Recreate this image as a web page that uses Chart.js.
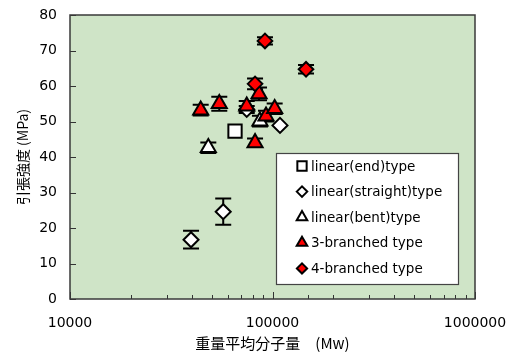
<!DOCTYPE html>
<html><head><meta charset="utf-8">
<script src="https://cdn.jsdelivr.net/npm/chart.js@4/dist/chart.umd.min.js"></script>
<style>html,body{margin:0;padding:0;background:#fff}#wrap{width:511px;height:356px}</style>
</head><body><div id="wrap"><canvas id="c" width="511" height="356"></canvas></div>
<script>
// ---- data ----
const seriesLabels = ['linear(end)type','linear(straight)type','linear(bent)type','3-branched type','4-branched type'];
const endX = [65300];               const endY = [47.3];                 const endErr = [0];
const straightX = [39600, 57100, 74600, 108900]; const straightY = [16.7, 24.6, 53.4, 48.9]; const straightErr = [2.5, 3.7, 1.0, 0];
const bentX = [48200, 86700];       const bentY = [42.6, 50.1];          const bentErr = [1.5, 1.5];
const br3X = [44200, 54600, 74600, 82000, 85800, 92900, 102500];
const br3Y = [53.2, 55.0, 54.3, 44.0, 57.8, 51.5, 53.6];
const br3Err = [1.5, 2.0, 1.5, 1.2, 1.8, 1.5, 1.5];
const br4X = [82000, 91800, 146400]; const br4Y = [60.6, 72.7, 64.7];   const br4Err = [1.5, 1.0, 1.2];
const yTickValues = [0,10,20,30,40,50,60,70,80];
const xTickLabels = [10000, 100000, 1000000];

const xs = [endX, straightX, bentX, br3X, br4X];
const ys = [endY, straightY, bentY, br3Y, br4Y];
const errs = [endErr, straightErr, bentErr, br3Err, br4Err];
const styles = [
  {pointStyle:'rect', fill:'#ffffff', r:9.4},
  {pointStyle:'rectRot', fill:'#ffffff', r:7.5},
  {pointStyle:'triangle', fill:'#ffffff', r:8.7},
  {pointStyle:'triangle', fill:'#ff0000', r:8.7},
  {pointStyle:'rectRot', fill:'#ff0000', r:7.3}
];
const datasets = seriesLabels.map((lab,i)=>({
  label: lab,
  order: seriesLabels.length - i,
  data: xs[i].map((x,j)=>({x:x, y:ys[i][j]})),
  pointStyle: styles[i].pointStyle,
  pointRadius: styles[i].r,
  pointHoverRadius: styles[i].r,
  pointBackgroundColor: styles[i].fill,
  pointBorderColor: '#000',
  pointBorderWidth: 2,
  showLine: false
}));

const bgPlugin = {
  id:'bg',
  beforeDraw(chart){
    const {ctx, chartArea:a} = chart;
    ctx.save(); ctx.fillStyle = '#cfe4c7';
    ctx.fillRect(a.left, a.top, a.right-a.left, a.bottom-a.top);
    ctx.restore();
  }
};
const framePlugin = {
  id:'frame',
  beforeDatasetsDraw(chart){
    const {ctx, chartArea:a, scales} = chart;
    ctx.save();
    ctx.strokeStyle = '#333'; ctx.lineWidth = 1;
    yTickValues.forEach(v=>{
      const py = Math.round(scales.y.getPixelForValue(v))+0.5;
      ctx.beginPath(); ctx.moveTo(a.left, py); ctx.lineTo(a.left+6, py); ctx.stroke();
    });
    scales.x.ticks.forEach(t=>{
      const px = Math.round(scales.x.getPixelForValue(t.value))+0.5;
      const major = Number.isInteger(Math.round(Math.log10(t.value)*1e6)/1e6);
      const len = major ? 7 : 4;
      ctx.beginPath(); ctx.moveTo(px, a.bottom); ctx.lineTo(px, a.bottom-len); ctx.stroke();
    });
    ctx.lineWidth = 1.5; ctx.strokeStyle = '#3a3a3a';
    ctx.strokeRect(a.left, a.top, a.right-a.left, a.bottom-a.top);
    // error bars
    ctx.strokeStyle = '#000'; ctx.lineWidth = 2;
    xs.forEach((arr,i)=>{
      arr.forEach((x,j)=>{
        const e = errs[i][j]; if(!e) return;
        const px = scales.x.getPixelForValue(x);
        const t = scales.y.getPixelForValue(ys[i][j]+e);
        const b = scales.y.getPixelForValue(ys[i][j]-e);
        ctx.beginPath();
        ctx.moveTo(px,t); ctx.lineTo(px,b);
        ctx.moveTo(px-8,t); ctx.lineTo(px+8,t);
        ctx.moveTo(px-8,b); ctx.lineTo(px+8,b);
        ctx.stroke();
      });
    });
    ctx.restore();
  }
};
const legendPlugin = {
  id:'boxlegend',
  afterDraw(chart){
    const {ctx, chartArea:a} = chart;
    const x0 = a.right - 199, y0 = a.top + 138, w = 182, h = 131;
    ctx.save();
    ctx.fillStyle = '#fff'; ctx.fillRect(x0, y0, w, h);
    ctx.strokeStyle = '#444'; ctx.lineWidth = 1.2; ctx.strokeRect(x0+0.5, y0+0.5, w, h);
    ctx.font = '13.5px "DejaVu Sans"'; ctx.textBaseline = 'middle'; ctx.fillStyle = '#000';
    seriesLabels.forEach((lab,i)=>{
      const cy = y0 + 13 + i*25.6;
      ctx.fillStyle = styles[i].fill; ctx.strokeStyle = '#000'; ctx.lineWidth = 2;
      Chart.helpers.drawPoint(ctx, {pointStyle: styles[i].pointStyle, radius: styles[i].r*0.7, rotation:0, borderWidth:2}, x0+26, cy);
      ctx.fillStyle = '#000';
      ctx.fillText(lab, x0+35, cy+1);
    });
    ctx.restore();
  }
};

new Chart(document.getElementById('c'), {
  type:'scatter',
  data:{datasets},
  plugins:[bgPlugin, framePlugin, legendPlugin],
  options:{
    responsive:false, animation:false, devicePixelRatio:1,
    layout:{padding:{top:15, left:0, right:0, bottom:0}},
    plugins:{legend:{display:false}, tooltip:{enabled:false}},
    scales:{
      x:{
        type:'logarithmic', min:10000, max:1000000,
        grid:{display:false, drawTicks:false}, border:{display:false},
        ticks:{autoSkip:false, maxRotation:0, padding:16, color:'#000',
          font:{family:'DejaVu Sans', size:14},
          callback:(v)=> xTickLabels.includes(v) ? String(v) : ''},
        title:{display:true, text:'重量平均分子量　(Mw)', color:'#000',
          font:{family:'Noto Sans CJK JP', size:15}, padding:{top:0,bottom:4}},
        afterFit(s){ s.height = 57; s.paddingLeft = 0; s.paddingRight = 36; }
      },
      y:{
        min:0, max:80,
        grid:{display:false, drawTicks:false}, border:{display:false},
        ticks:{stepSize:10, padding:13, color:'#000', font:{family:'DejaVu Sans', size:14}},
        title:{display:true, text:'引張強度 (MPa)', color:'#000',
          font:{family:'Noto Sans CJK JP', size:14}, padding:{top:14,bottom:0}},
        afterFit(s){ s.width = 70; s.paddingTop = 0; s.paddingBottom = 0; }
      }
    }
  }
});
</script></body></html>
